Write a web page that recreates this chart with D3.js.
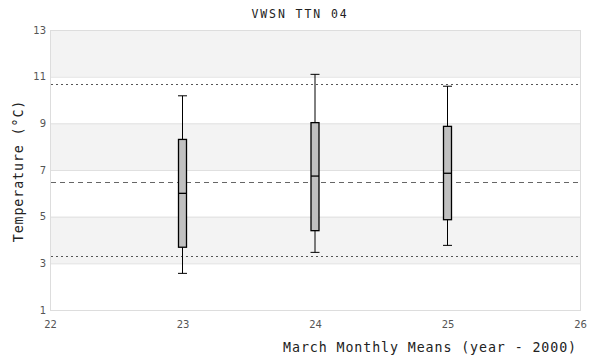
<!DOCTYPE html>
<html><head><meta charset="utf-8">
<script src="https://cdn.jsdelivr.net/npm/d3@7"></script>
<style>body{margin:0;background:#fff}</style>
</head><body>
<svg id="c" width="600" height="360"></svg>
<script>
const years = [23, 24, 25];
const whiskerLow = [2.57, 3.47, 3.77];
const q1 = [3.69, 4.4, 4.87];
const median = [6.0, 6.74, 6.86];
const q3 = [8.31, 9.03, 8.87];
const whiskerHigh = [10.18, 11.1, 10.59];
const meanLine = 6.47;
const upperDotted = 10.69;
const lowerDotted = 3.3;
const xTicks = [22, 23, 24, 25, 26];
const yTicks = [1, 3, 5, 7, 9, 11, 13];
const title = "VWSN TTN 04";
const xLabel = "March Monthly Means (year - 2000)";
const yLabel = "Temperature (°C)";

const svg = d3.select("#c");
const L = 50, R = 580, T = 30, B = 310;
const x = d3.scaleLinear().domain([22, 26]).range([L, R]);
const y = d3.scaleLinear().domain([1, 13]).range([B, T]);

// bands
const bands = [[11,13],[7,9],[3,5]];
svg.selectAll("rect.band").data(bands).enter().append("rect")
  .attr("x", L).attr("width", R - L)
  .attr("y", d => y(d[1])).attr("height", d => y(d[0]) - y(d[1]))
  .attr("fill", "#f3f3f3");
// gridlines
svg.selectAll("line.grid").data(yTicks.slice(1, -1)).enter().append("line")
  .attr("x1", L).attr("x2", R).attr("y1", d => y(d) + 0.5).attr("y2", d => y(d) + 0.5)
  .attr("stroke", "#e0e0e0").attr("stroke-width", 1);
svg.append("rect").attr("x", L + 0.5).attr("y", T + 0.5).attr("width", R - L).attr("height", B - T)
  .attr("fill", "none").attr("stroke", "#dddddd");

// axes labels
const yAxis = d3.axisLeft(y).tickValues(yTicks).tickFormat(d3.format("d")).tickSize(0).tickPadding(4);
const ya = svg.append("g").attr("transform", `translate(${L},0)`).call(yAxis);
const xAxis = d3.axisBottom(x).tickValues(xTicks).tickFormat(d3.format("d")).tickSize(0).tickPadding(11);
const xa = svg.append("g").attr("transform", `translate(0,${B})`).call(xAxis);
[ya, xa].forEach(g => {
  g.select(".domain").remove();
  g.selectAll("text").attr("fill", "#555").style("font-family", "DejaVu Sans, sans-serif").style("font-size", "10px");
});

// reference lines
const refs = [[upperDotted, "2,3", "#555"], [lowerDotted, "2,3", "#555"], [meanLine, "5,4", "#666"]];
svg.selectAll("line.ref").data(refs).enter().append("line")
  .attr("x1", L + 1).attr("x2", R).attr("y1", d => Math.round(y(d[0])) + 0.5).attr("y2", d => Math.round(y(d[0])) + 0.5)
  .attr("stroke", d => d[2]).attr("stroke-dasharray", d => d[1]).attr("stroke-width", 1);

// boxes
const data = years.map((yr, i) => ({yr, lo: whiskerLow[i], q1: q1[i], med: median[i], q3: q3[i], hi: whiskerHigh[i]}));
const bw = 8;
const g = svg.selectAll("g.box").data(data).enter().append("g");
g.append("line").attr("x1", d => x(d.yr)).attr("x2", d => x(d.yr))
  .attr("y1", d => y(d.hi)).attr("y2", d => y(d.lo)).attr("stroke", "#000");
g.append("line").attr("x1", d => x(d.yr) - bw/2 - 0.5).attr("x2", d => x(d.yr) + bw/2 + 0.5)
  .attr("y1", d => y(d.hi)).attr("y2", d => y(d.hi)).attr("stroke", "#000");
g.append("line").attr("x1", d => x(d.yr) - bw/2 - 0.5).attr("x2", d => x(d.yr) + bw/2 + 0.5)
  .attr("y1", d => y(d.lo)).attr("y2", d => y(d.lo)).attr("stroke", "#000");
g.append("rect").attr("x", d => x(d.yr) - bw/2).attr("width", bw)
  .attr("y", d => y(d.q3)).attr("height", d => y(d.q1) - y(d.q3))
  .attr("fill", "#c0c0c0").attr("stroke", "#000").attr("stroke-width", 1.3);
g.append("line").attr("x1", d => x(d.yr) - bw/2).attr("x2", d => x(d.yr) + bw/2)
  .attr("y1", d => y(d.med)).attr("y2", d => y(d.med)).attr("stroke", "#000").attr("stroke-width", 1.3);

// titles
const mono = "DejaVu Sans Mono, monospace";
svg.append("text").attr("x", 300).attr("y", 18).attr("text-anchor", "middle")
  .style("font-family", mono).style("font-size", "11.5px").style("letter-spacing", "1.9px")
  .attr("fill", "#222").text(title);
svg.append("text").attr("x", 577).attr("y", 352).attr("text-anchor", "end")
  .style("font-family", mono).style("font-size", "13.3px").style("letter-spacing", "0.9px")
  .attr("fill", "#222").text(xLabel);
svg.append("text").attr("transform", "translate(23,171) rotate(-90)").attr("text-anchor", "middle")
  .style("font-family", mono).style("font-size", "13.3px").style("letter-spacing", "0.9px")
  .attr("fill", "#222").text(yLabel);
</script>
</body></html>
